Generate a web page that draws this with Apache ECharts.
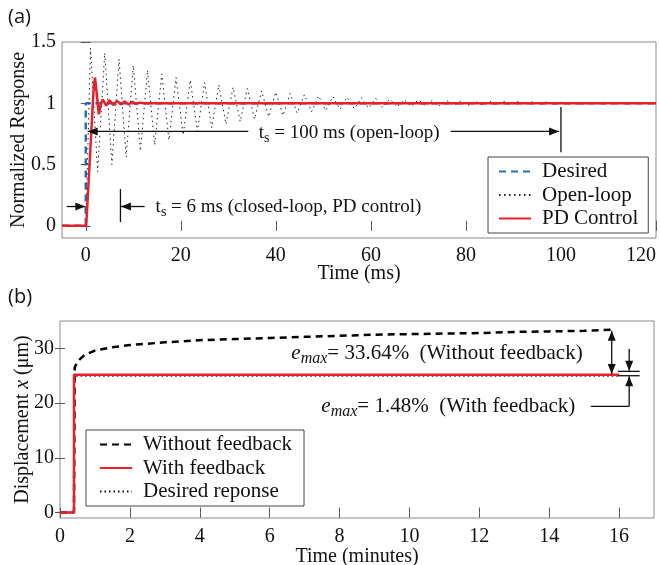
<!DOCTYPE html>
<html><head><meta charset="utf-8">
<script src="https://cdn.jsdelivr.net/npm/echarts@6/dist/echarts.min.js"></script>
<style>html,body{margin:0;padding:0;background:#fff}#c{width:660px;height:565px}</style>
</head><body><div id="c"></div>
<script>
// ---------- (a) step response ----------
const desiredA_t = [-5, 0, 0, 120];
const desiredA_y = [0, 0, 1, 1];
const openLoop_t = [-5, 0, 1.0, 2.5, 4.0, 5.5, 7.0, 8.5, 10.0, 11.5, 13.0, 14.5, 16.0, 17.5, 19.0, 20.5, 22.0, 23.5, 25.0, 26.5, 28.0, 29.5, 31.0, 32.5, 34.0, 35.5, 37.0, 38.5, 40.0, 41.5, 43.0, 44.5, 46.0, 47.5, 49.0, 50.5, 52.0, 53.5, 55.0, 56.5, 58.0, 59.5, 61.0, 62.5, 64.0, 65.5, 67.0, 68.5, 70.0, 71.5, 73.0, 74.5, 76.0, 77.5, 79.0, 80.5, 82.0, 83.5, 85.0, 86.5, 88.0, 89.5, 91.0, 92.5, 94.0, 95.5, 97.0, 98.5, 100.0, 101.5, 103.0, 104.5, 106.0, 107.5, 109.0, 110.5, 112.0, 113.5, 115.0, 116.5, 118.0, 119.5, 120];
const openLoop_y = [0, 0, 1.45, 0.44, 1.41, 0.50, 1.36, 0.56, 1.31, 0.61, 1.27, 0.66, 1.24, 0.70, 1.21, 0.74, 1.19, 0.77, 1.17, 0.80, 1.15, 0.83, 1.13, 0.85, 1.12, 0.87, 1.10, 0.89, 1.09, 0.90, 1.08, 0.92, 1.07, 0.93, 1.06, 0.94, 1.055, 0.95, 1.05, 0.955, 1.045, 0.96, 1.04, 0.965, 1.035, 0.97, 1.03, 0.975, 1.028, 0.977, 1.025, 0.98, 1.022, 0.982, 1.02, 0.984, 1.018, 0.986, 1.016, 0.987, 1.015, 0.988, 1.014, 0.99, 1.013, 0.99, 1.012, 0.991, 1.01, 0.992, 1.009, 0.992, 1.008, 0.993, 1.008, 0.993, 1.007, 0.994, 1.007, 0.994, 1.006, 0.995, 1.0];
const pd_t = [-5, 0.1, 1.7, 1.95, 2.3, 2.75, 3.2, 3.6, 4.3, 5.0, 5.8, 6.6, 7.4, 8.2, 9.0, 9.8, 10.6, 11.4, 12.5, 120];
const pd_y = [0, 0, 1.15, 1.21, 1.08, 0.91, 1.0, 1.03, 0.98, 1.025, 0.985, 1.02, 0.99, 1.015, 0.99, 1.012, 0.995, 1.005, 1.0, 1.0];
const xTicksA = [0, 20, 40, 60, 80, 100, 120];
const yTicksA = [0, 0.5, 1, 1.5];

// ---------- (b) displacement ----------
const noFb_t = [0, 0.4, 0.42, 0.5, 0.7, 1.0, 1.5, 2, 3, 4, 5, 6, 7, 8, 9, 10, 11, 12, 13, 14, 15, 15.8];
const noFb_y = [0, 0, 26.5, 27.6, 28.8, 29.6, 30.2, 30.6, 31.1, 31.5, 31.7, 31.9, 32.1, 32.3, 32.5, 32.6, 32.7, 32.8, 33.0, 33.1, 33.2, 33.4];
const fb_t = [0, 0.4, 0.4, 16];
const fb_y = [0, 0, 25.2, 25.2];
const desB_t = [0, 0.4, 0.4, 16];
const desB_y = [0, 0, 25, 25];
const xTicksB = [0, 2, 4, 6, 8, 10, 12, 14, 16];
const yTicksB = [0, 10, 20, 30];

const zip = (a, b) => a.map((v, i) => [v, b[i]]);
const SERIF = '"Liberation Serif", "Times New Roman", serif';
const TXT = '#111';
const tickStyle = {color: '#555', width: 1};
const labelStyle = {fontFamily: SERIF, fontSize: 20, color: TXT};

function xAx(grid, min, max, ticks, pos, name, gap, labelMargin, alignMax) {
  const a = {gridIndex: grid, type: 'value', min, max, position: pos,
    axisLine: {show: false}, splitLine: {show: false},
    axisTick: {inside: true, length: 5, customValues: ticks, lineStyle: tickStyle},
    axisLabel: {show: !!name, customValues: ticks, margin: labelMargin, ...labelStyle}};
  if (alignMax) a.axisLabel.alignMaxLabel = 'right';
  if (name) { a.name = name; a.nameLocation = 'middle'; a.nameGap = gap; a.nameMoveOverlap = false; a.nameTextStyle = {...labelStyle}; }
  return a;
}
function yAx(grid, min, max, ticks, pos, name, gap) {
  const a = {gridIndex: grid, type: 'value', min, max, position: pos,
    axisLine: {show: false}, splitLine: {show: false},
    axisTick: {inside: true, length: 5, customValues: ticks, lineStyle: tickStyle},
    axisLabel: {show: !!name, customValues: ticks, margin: 6, ...labelStyle}};
  if (name) { a.name = name; a.nameLocation = 'middle'; a.nameGap = gap; a.nameMoveOverlap = false;
    a.nameTextStyle = {...labelStyle, rich: {i: {fontFamily: SERIF, fontSize: 20, fontStyle: 'italic', color: TXT}}}; }
  return a;
}

const chart = echarts.init(document.getElementById('c'), null, {renderer: 'canvas'});
const legendCommon = {orient: 'vertical', backgroundColor: '#fff', borderColor: '#444', borderWidth: 1,
  itemWidth: 32, itemHeight: 14, itemGap: 2.5,
  itemStyle: {opacity: 0},
  textStyle: {fontFamily: SERIF, fontSize: 21, color: TXT, lineHeight: 21, padding: [0, 0, 0, 6]}};

chart.setOption({
  animation: false,
  backgroundColor: '#fff',
  grid: [
    {left: 62, top: 42, width: 594, height: 196, show: true, borderColor: '#888', borderWidth: 1, containLabel: false, outerBoundsMode: 'none'},
    {left: 60, top: 321, width: 594, height: 197, show: true, borderColor: '#888', borderWidth: 1, containLabel: false, outerBoundsMode: 'none'}
  ],
  xAxis: [
    xAx(0, -5, 120, xTicksA, 'bottom', 'Time (ms)', 26, 8, true),
    xAx(0, -5, 120, xTicksA, 'top', null),
    xAx(1, 0, 17, xTicksB, 'bottom', 'Time (minutes)', 29, 9, false),
    xAx(1, 0, 17, xTicksB, 'top', null)
  ],
  yAxis: [
    yAx(0, -0.1, 1.5, yTicksA, 'left', 'Normalized Response', 33),
    yAx(0, -0.1, 1.5, yTicksA, 'right', null),
    yAx(1, -1, 35, yTicksB, 'left', 'Displacement {i|x} (μm)', 27),
    yAx(1, -1, 35, yTicksB, 'right', null)
  ],
  legend: [
    {...legendCommon, left: 488, top: 157, padding: [4, 10, 4, 10], data: ['Desired', 'Open-loop', 'PD Control']},
    {...legendCommon, left: 86, top: 430, padding: [4, 12, 4, 13], data: ['Without feedback', 'With feedback', 'Desired reponse']}
  ],
  series: [
    {name: 'Desired', type: 'line', xAxisIndex: 0, yAxisIndex: 0, data: zip(desiredA_t, desiredA_y), symbol: 'none', z: 2,
      lineStyle: {color: '#1f72b8', width: 2.5, type: [7, 5]}, itemStyle: {color: '#1f72b8'}},
    {name: 'Open-loop', type: 'line', xAxisIndex: 0, yAxisIndex: 0, data: zip(openLoop_t, openLoop_y), symbol: 'none', z: 3,
      lineStyle: {color: '#222', width: 1, type: [1.5, 3.5]}, itemStyle: {color: '#222'}},
    {name: 'PD Control', type: 'line', xAxisIndex: 0, yAxisIndex: 0, data: zip(pd_t, pd_y), symbol: 'none', z: 4,
      lineStyle: {color: '#e8202a', width: 2.5}, itemStyle: {color: '#e8202a'}},
    {name: 'Without feedback', type: 'line', xAxisIndex: 2, yAxisIndex: 2, data: zip(noFb_t, noFb_y), symbol: 'none', z: 2,
      lineStyle: {color: '#000', width: 2.5, type: [7, 5]}, itemStyle: {color: '#000'}},
    {name: 'Desired reponse', type: 'line', xAxisIndex: 2, yAxisIndex: 2, data: zip(desB_t, desB_y), symbol: 'none', z: 3,
      lineStyle: {color: '#111', width: 2, type: [1.5, 3]}, itemStyle: {color: '#111'}},
    {name: 'With feedback', type: 'line', xAxisIndex: 2, yAxisIndex: 2, data: zip(fb_t, fb_y), symbol: 'none', z: 4,
      lineStyle: {color: '#e8202a', width: 2.5}, itemStyle: {color: '#e8202a'}}
  ]
});

// ---------- annotations (positions in data coordinates) ----------
const mctx = document.createElement('canvas').getContext('2d');
function fontStr(p) { return (p.italic ? 'italic ' : '') + p.size + 'px ' + SERIF; }
function build() {
  const PA = (x, y) => chart.convertToPixel({seriesIndex: 0}, [x, y]);
  const PB = (x, y) => chart.convertToPixel({seriesIndex: 3}, [x, y]);
  const els = [];
  const line = (a, b) => els.push({type: 'line', z: 100, shape: {x1: a[0], y1: a[1], x2: b[0], y2: b[1]}, style: {stroke: '#111', lineWidth: 1.3}});
  const head = (t, dir) => {
    const L = 10, W = 4; let pts;
    if (dir === 'l') pts = [t, [t[0] + L, t[1] - W], [t[0] + L, t[1] + W]];
    if (dir === 'r') pts = [t, [t[0] - L, t[1] - W], [t[0] - L, t[1] + W]];
    if (dir === 'u') pts = [t, [t[0] - W, t[1] + L], [t[0] + W, t[1] + L]];
    if (dir === 'd') pts = [t, [t[0] - W, t[1] - L], [t[0] + W, t[1] - L]];
    els.push({type: 'polygon', z: 101, shape: {points: pts}, style: {fill: '#111'}});
  };
  const text = (pt, parts) => {
    let x = pt[0];
    parts.forEach(p => {
      mctx.font = fontStr(p);
      els.push({type: 'text', z: 102, x: x, y: pt[1] + (p.dy || 0),
        style: {text: p.t, font: fontStr(p), fill: TXT, verticalAlign: 'middle', align: 'left'}});
      x += mctx.measureText(p.t).width;
    });
  };
  // (a) t_s = 100 ms
  line(PA(34.2, 0.77), PA(0.4, 0.77)); head(PA(0.4, 0.77), 'l');
  text(PA(36.4, 0.755), [{t: 't', size: 19}, {t: 's', size: 14, dy: 5}, {t: ' = 100 ms (open-loop)', size: 19}]);
  line(PA(76.8, 0.77), PA(99.6, 0.77)); head(PA(99.6, 0.77), 'r');
  line(PA(100, 0.97), PA(100, 0.6));
  // (a) t_s = 6 ms
  line(PA(-4, 0.157), PA(-0.1, 0.157)); head(PA(-0.1, 0.157), 'r');
  line(PA(7.3, 0.3), PA(7.3, 0.03));
  line(PA(12.4, 0.157), PA(7.4, 0.157)); head(PA(7.4, 0.157), 'l');
  text(PA(14.7, 0.15), [{t: 't', size: 19}, {t: 's', size: 14, dy: 5}, {t: ' = 6 ms (closed-loop, PD control)', size: 19}]);
  // (b) e_max annotations
  text(PB(6.62, 29.0), [{t: 'e', size: 21, italic: true}, {t: 'max', size: 16, italic: true, dy: 5}, {t: '= 33.64%  (Without feedback)', size: 21}]);
  text(PB(7.48, 19.4), [{t: 'e', size: 21, italic: true}, {t: 'max', size: 16, italic: true, dy: 5}, {t: '= 1.48%  (With feedback)', size: 21}]);
  line(PB(15.79, 33.2), PB(15.79, 25.3)); head(PB(15.79, 33.2), 'u'); head(PB(15.79, 25.3), 'd');
  line(PB(15.97, 25.8), PB(16.59, 25.8));
  line(PB(15.97, 25.0), PB(16.59, 25.0));
  line(PB(16.29, 29.9), PB(16.29, 25.9)); head(PB(16.29, 25.9), 'd');
  line(PB(16.29, 19.4), PB(16.29, 24.9)); head(PB(16.29, 24.9), 'u');
  line(PB(15.19, 19.4), PB(16.29, 19.4));
  // panel letters
  els.push({type: 'text', left: 8, top: 7, style: {text: '(a)', font: '20px "Open Sans", sans-serif', fill: TXT}});
  els.push({type: 'text', left: 8, top: 287, style: {text: '(b)', font: '20px "Open Sans", sans-serif', fill: TXT}});
  chart.setOption({graphic: els});
}
build();
</script>
</body></html>
